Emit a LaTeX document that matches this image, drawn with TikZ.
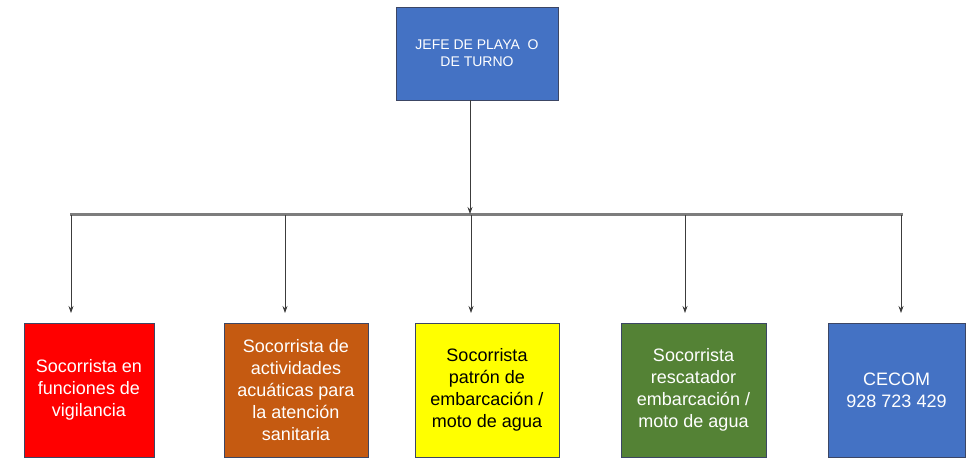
\documentclass[tikz,border=0pt]{standalone}
\usepackage{fontspec}
\setmainfont{Liberation Sans}
\usetikzlibrary{arrows.meta}
\definecolor{topblue}{RGB}{68,114,196}
\definecolor{boxred}{RGB}{255,0,0}
\definecolor{boxorange}{RGB}{197,90,17}
\definecolor{boxyellow}{RGB}{255,255,0}
\definecolor{boxgreen}{RGB}{84,130,53}
\definecolor{edgec}{RGB}{60,70,100}
\definecolor{barc}{RGB}{125,125,125}
\definecolor{linec}{RGB}{60,60,60}
\begin{document}
\begin{tikzpicture}[x=1pt,y=-1pt,
  orgbox/.style={draw=edgec, line width=0.8pt, inner sep=0pt, align=center,
    minimum height=134pt, font=\fontsize{18}{22}\selectfont},
  topbox/.style={draw=edgec, line width=0.8pt, fill=topblue, text=white, inner sep=0pt,
    align=center, minimum width=162pt, minimum height=93pt, font=\fontsize{14}{17}\selectfont},
  feed/.style={draw=linec, line width=0.7pt, -{Stealth[length=7pt,width=5pt]}},
  bus/.style={draw=barc, line width=3pt}]
\useasboundingbox (0,0) rectangle (966,460);

\node[topbox] (jefe) at (477,53.5) {JEFE DE PLAYA\ \ O\\DE TURNO};

\node[orgbox, fill=boxred, text=white, minimum width=130pt] (b1) at (89,390)
  {Socorrista en\\funciones de\\vigilancia};
\node[orgbox, fill=boxorange, text=white, minimum width=144pt] (b2) at (296,390)
  {Socorrista de\\actividades\\acuáticas para\\la atención\\sanitaria};
\node[orgbox, fill=boxyellow, text=black, minimum width=144pt] (b3) at (487,390)
  {Socorrista\\patrón de\\embarcación /\\moto de agua};
\node[orgbox, fill=boxgreen, text=white, minimum width=145pt] (b4) at (693.5,390)
  {Socorrista\\rescatador\\embarcación /\\moto de agua};
\node[orgbox, fill=topblue, text=white, minimum width=137pt] (b5) at (896.5,390)
  {CECOM\\928 723 429};

% bus bar
\coordinate (barL) at (70,214);
\coordinate (barR) at (903,214);
\coordinate (j) at (470,214);
\draw[bus] (barL) -- (barR);

% feed from top box
\draw[feed] (j |- jefe.south) -- (j);

% drops
\foreach \i/\x in {1/71,2/285,3/471,4/685,5/901}{
  \coordinate (a\i) at (\x,215);
  \coordinate (t\i) at (\x,313);
  \draw[feed] (a\i) -- (t\i);
}
\end{tikzpicture}
\end{document}
